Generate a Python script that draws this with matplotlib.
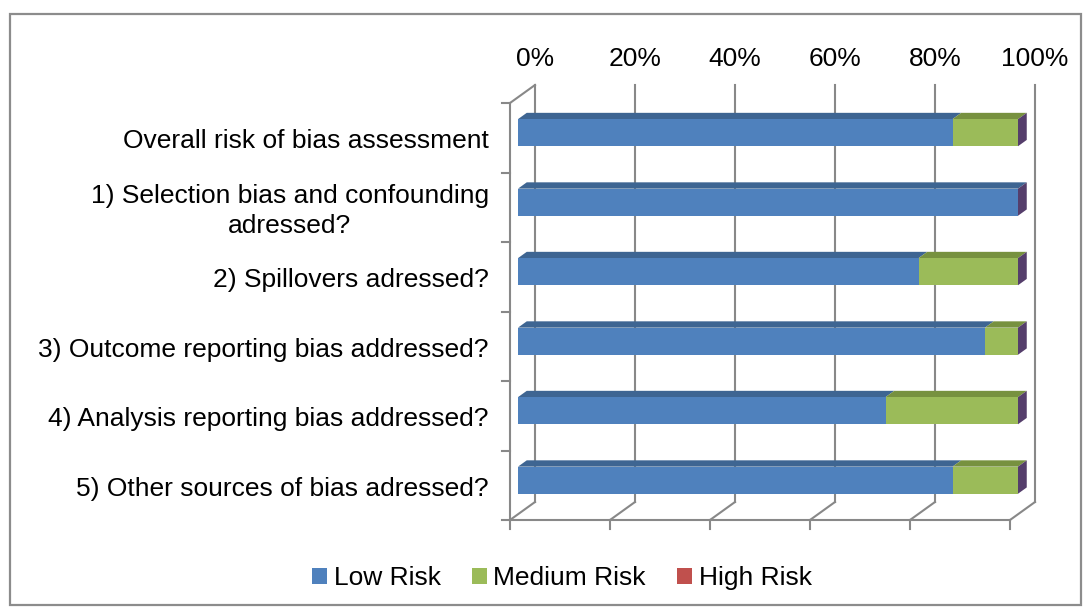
import matplotlib
matplotlib.use("Agg")
import matplotlib.pyplot as plt
from matplotlib.patches import Polygon, Patch, Rectangle

plt.rcParams['font.family'] = ['Liberation Sans', 'DejaVu Sans']

# data, top row first
categories = [
    "Overall risk of bias assessment",
    "1) Selection bias and confounding\nadressed?",
    "2) Spillovers adressed?",
    "3) Outcome reporting bias addressed?",
    "4) Analysis reporting bias addressed?",
    "5) Other sources of bias adressed?",
]
low_risk = [86.9, 100.0, 80.1, 93.4, 73.5, 86.9]
medium_risk = [13.1, 0.0, 19.9, 6.6, 26.5, 13.1]
high_risk = [0.0, 0.0, 0.0, 0.0, 0.0, 0.0]
series_names = ["Low Risk", "Medium Risk", "High Risk"]
pct_ticks = [0, 20, 40, 60, 80, 100]

front_colors = ['#4f81bd', '#9bbb59', '#c0504d']
top_colors = ['#3e6592', '#77913f', '#963c3a']
side_color = '#553e6b'
grid_color = '#888888'

# 3d look: depth shift in data units
DX, DY = 5.0, 0.259
d0, d1 = 0.32, 0.67
half_h = 0.195

fig = plt.figure(figsize=(10.91, 6.10), dpi=100)
fig.patches.append(Rectangle((10 / 1091, 1 - 605 / 610), 1071 / 1091, 591 / 610,
                             transform=fig.transFigure, fill=False,
                             edgecolor='#8c8c8c', lw=1.6))
ax = fig.add_axes([510 / 1091, 90 / 610, 525 / 1091, 435 / 610])
ax.set_xlim(0, 100 + DX)
ax.set_ylim(0, 6 + DY)
ax.set_axis_off()

line_kw = dict(color=grid_color, lw=1.5, clip_on=False, zorder=1)
# walls, floor and grid
ax.plot([0, 0], [0, 6], **line_kw)
ax.plot([0, DX], [6, 6 + DY], **line_kw)
ax.plot([0, 100], [0, 0], **line_kw)
for v in pct_ticks:
    ax.plot([v + DX, v + DX], [DY, 6 + DY], **line_kw)
    ax.plot([v, v], [0, -0.13], **line_kw)
    ax.plot([v, v + DX], [0, DY], **line_kw)
    ax.text(v + DX, 6.64, f"{v}%", ha='center', va='center', fontsize=19)
for k in range(7):
    ax.plot([-1.5, 0], [k, k], **line_kw)

n = len(categories)
for i, name in enumerate(categories):
    k = n - 1 - i
    yc = k + 0.49
    y0, y1 = yc - half_h, yc + half_h
    left = 0.0
    for s, vals in enumerate([low_risk, medium_risk, high_risk]):
        w = vals[i]
        if w > 0:
            x0, x1 = left, left + w
            top = [(x0 + d0 * DX, y1 + d0 * DY), (x1 + d0 * DX, y1 + d0 * DY),
                   (x1 + d1 * DX, y1 + d1 * DY), (x0 + d1 * DX, y1 + d1 * DY)]
            ax.add_patch(Polygon(top, closed=True, facecolor=top_colors[s],
                                 edgecolor='none', zorder=3, clip_on=False))
            ax.add_patch(Rectangle((x0 + d0 * DX, y0 + d0 * DY), w, y1 - y0,
                                   facecolor=front_colors[s], edgecolor='none',
                                   zorder=4, clip_on=False))
        left += w
    side = [(left + d0 * DX, y0 + d0 * DY), (left + d1 * DX, y0 + d1 * DY),
            (left + d1 * DX, y1 + d1 * DY), (left + d0 * DX, y1 + d0 * DY)]
    ax.add_patch(Polygon(side, closed=True, facecolor=side_color,
                         edgecolor='none', zorder=4, clip_on=False))
    ax.text(-4.2, k + 0.45, name, ha='right', va='center', fontsize=19,
            multialignment='center', linespacing=1.3)

handles = [Patch(facecolor=c, edgecolor='none') for c in front_colors]
fig.legend(handles, series_names, loc='center',
           bbox_to_anchor=(562 / 1091, 1 - 578 / 610), ncol=3, frameon=False,
           fontsize=19, handlelength=0.55, handleheight=0.55,
           handletextpad=0.25, columnspacing=1.2)

fig.savefig("out.png", dpi=100)
